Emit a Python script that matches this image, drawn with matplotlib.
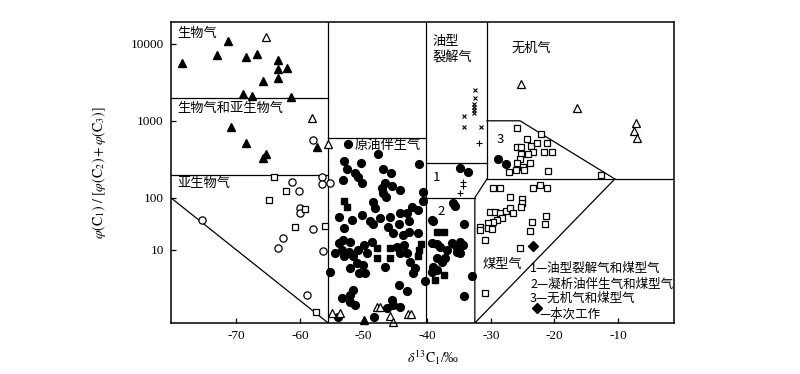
import numpy as np
import matplotlib
matplotlib.use("Agg")
import matplotlib.pyplot as plt

plt.rcParams['font.family'] = ['Noto Sans CJK SC', 'DejaVu Sans']
plt.rcParams['mathtext.fontset'] = 'stix'

# ---- data (delta13C1 in permil, C1/(C2+C3)) ----
tri_filled_x = [-78.6, -73.0, -71.3, -68.4, -66.7, -63.4, -63.4, -62.1, -65.8, -63.4,
                -68.9, -67.6, -61.4, -70.9, -68.4, -65.3, -65.8, -57.3, -49.85]
tri_filled_y = [5650, 7180, 10900, 6760, 7400, 6170, 4720, 4860, 3290, 3600,
                2230, 2100, 2040, 830, 514, 370, 328, 456, 0.46]

tri_open_x = [-65.4, -58.1, -55.55, -25.2, -16.4, -7.2, -7.5, -7.0,
              -54.9, -53.7, -47.85, -47.4, -45.8, -45.3, -43.0, -42.5]
tri_open_y = [12300, 1090, 500, 3000, 1470, 935, 735, 597,
              0.62, 0.62, 0.81, 0.81, 0.55, 0.42, 0.60, 0.60]

circ_open_x = [-57.9, -75.4, -61.25, -60.06, -59.95, -59.95, -62.67, -63.5, -58.0,
               -56.4, -58.9, -56.6, -56.55, -55.2]
circ_open_y = [563, 37.5, 161, 123, 62.7, 50, 16.8, 11.1, 25.2,
               9.7, 1.38, 187, 149, 154]

sq_open_x = [-64.1, -62.15, -64.8, -59.2, -60.7, -56.1, -57.4,
             # box 3
             -25.8, -22.1, -24.3, -25.9, -25.2, -23.6, -22.8, -21.2, -23.3, -21.7, -20.3,
             -25.2, -24.1, -25.4, -23.8, -25.9, -24.9, -26.0, -27.1, -24.7, -20.95, -12.6,
             # coal gas
             -29.6, -28.55, -23.3, -22.25, -21.1, -27.0, -25.1, -25.1, -25.2, -30.1, -29.3,
             -28.5, -27.6, -26.9, -26.5, -28.2, -29.05, -29.7, -30.5, -31.7, -31.7, -30.4,
             -29.85, -30.9, -21.3, -21.5, -23.5, -23.8, -25.4, -30.9]
sq_open_y = [187, 121, 90, 60, 27.2, 28.8, 0.64,
             813, 667, 574, 460, 460, 470, 519, 519, 396, 396, 396,
             370, 370, 315, 285, 280, 253, 229, 218, 229, 220, 197,
             135, 135, 135, 146, 135, 103, 93, 78, 65.5, 54, 54,
             51.6, 55.7, 62.7, 50, 41.5, 37.5, 34.8, 32.4, 27.9, 24.1, 26,
             24.9, 15.5, 44.7, 31.4, 33.9, 23.1, 10.8, 1.49]

circ_filled_x = [-52.4, -47.7, -53.0, -50.4, -41.2, -52.6, -51.3, -50.8, -53.2, -50.2,
                 -46.9, -45.7, -46.6, -47.1, -45.5, -44.2, -46.9, -46.4, -40.6, -48.5,
                 -48.2, -49.0, -51.8, -53.9, -53.1, -50.3, -47.4, -45.8, -44.2, -43.2,
                 -42.3, -41.4, -44.35, -42.9, -46.2, -40.7,
                 -48.5, -42.9, -45.3, -43.8, -41.4, -53.2, -53.9, -52.1, -53.4, -54.45,
                 -53.1, -52.3, -51.6, -50.8, -50.0, -48.7, -49.5, -51.05, -50.1, -50.65,
                 -49.7, -52.1, -55.2, -46.6, -44.8, -44.2, -43.7, -43.2, -42.65, -41.9,
                 -42.15, -40.3, -44.35, -43.1, -45.55, -45.3, -44.2, -46.3, -48.3, -51.6,
                 -52.1, -53.4, -52.2, -51.3, -54.0,
                 # box 2
                 -39.3, -39.1, -35.9, -35.6, -34.2, -39.3, -38.5, -38.0, -36.9, -36.1,
                 -35.4, -34.9, -34.4, -35.3, -34.8, -38.5, -37.7, -37.2, -39.0, -39.3,
                 -38.4, -33.0, -34.2,
                 # box 1 and box 3
                 -34.8, -33.5, -28.8, -27.6]
circ_filled_y = [499, 370, 300, 280, 274, 234, 207, 187, 170, 154,
                 234, 207, 154, 132, 142, 126, 114, 103, 120, 84,
                 63, 35, 37.5, 43, 26.7, 46.7, 40, 42, 50, 50,
                 67, 58, 31, 35, 28, 88,
                 31.4, 22.4, 21.4, 19.4, 20.8, 15.5, 13.4, 14.4, 10, 8.6,
                 7.5, 9.3, 7.5, 10, 12.5, 14.4, 8.6, 5.6, 5.2, 3.6,
                 3.6, 4.5, 3.75, 4.8, 11.6, 8.6, 12.5, 8.6, 6.0, 4.5,
                 3.6, 2.5, 2.14, 1.64, 1.1, 0.89, 0.82, 0.77, 0.53, 1.72,
                 1.38, 1.19, 1.03, 0.89, 0.53,
                 37.5, 35.8, 78, 69, 31, 13.8, 13, 11.6, 10, 13.4,
                 11.9, 14.4, 12.5, 9.3, 8.6, 6.9, 6.0, 7.1, 4.8, 3.85,
                 4.15, 3.2, 1.32,
                 241, 218, 315, 272]

sq_filled_x = [-53.1, -52.6, -41.0, -47.9, -45.8, -47.9, -45.8, -41.2, -41.4,
               -38.4, -37.3, -38.7, -37.3]
sq_filled_y = [86.5, 65.5, 13, 10.8, 10.8, 6.9, 6.9, 10, 7.5,
               21.8, 21.8, 2.67, 3.3]

cross_x = [-32.4, -32.45, -32.6, -32.6, -32.6, -32.6, -34.2, -34.2, -31.6]
cross_y = [2510, 1960, 1640, 1500, 1380, 1250, 1150, 837, 837]
plus_x = [-31.8, -34.3, -34.4, -34.9]
plus_y = [510, 161, 142, 116]

this_work_x = [-23.35]
this_work_y = [11.9]

# field boundaries (x list, y list)
boundaries = [
    ([-80.3, -55.55], [2000, 2000]),
    ([-80.3, -55.55], [200, 200]),
    ([-55.55, -55.55], [0.4, 19300]),
    ([-80.3, -55.55], [100, 0.4]),
    ([-55.55, -40.15], [600, 600]),
    ([-40.15, -40.15], [0.4, 19300]),
    ([-40.15, -30.6], [280, 280]),
    ([-30.6, -30.6], [19300, 175]),
    ([-30.6, -25.4, -10.5], [1000, 1000, 175]),
    ([-30.6, -1.2], [175, 175]),
    ([-30.6, -32.5, -32.5], [175, 100, 0.4]),
    ([-40.15, -32.5], [100, 100]),
    ([-10.5, -32.5], [175, 0.4]),
]

xticks = [-70, -60, -50, -40, -30, -20, -10]
yticks = [10, 100, 1000, 10000]

# y axis: log scale, the decade below 100 drawn shorter
K = 0.68


def fwd(y):
    ly = np.log10(np.clip(y, 1e-6, None))
    return np.where(ly >= 2, ly, 2 + (ly - 2) * K)


def inv(t):
    t = np.asarray(t, dtype=float)
    return np.where(t >= 2, 10 ** t, 10 ** (2 + (t - 2) / K))


fig = plt.figure(figsize=(8, 3.74), dpi=100)
ax = fig.add_axes([0.2134, 0.1364, 0.6291, 0.8048])
ax.set_yscale('function', functions=(fwd, inv))
ax.set_xlim(-80.3, -1.2)
ax.set_ylim(0.4, 19300)

for bx, by in boundaries:
    ax.plot(bx, by, color='black', lw=0.9)

kw = dict(linestyle='none', clip_on=False)
ax.plot(circ_filled_x, circ_filled_y, marker='o', ms=5.6, color='black', **kw)
ax.plot(sq_filled_x, sq_filled_y, marker='s', ms=4.8, color='black', **kw)
ax.plot(tri_filled_x, tri_filled_y, marker='^', ms=5.5, color='black', **kw)
ax.plot(tri_open_x, tri_open_y, marker='^', ms=5.5, mfc='white', mec='black', mew=0.9, **kw)
ax.plot(circ_open_x, circ_open_y, marker='o', ms=5.2, mfc='white', mec='black', mew=0.9, **kw)
ax.plot(sq_open_x, sq_open_y, marker='s', ms=4.6, mfc='white', mec='black', mew=0.9, **kw)
ax.plot(cross_x, cross_y, marker='x', ms=3.2, color='black', mew=0.8, **kw)
ax.plot(plus_x, plus_y, marker='+', ms=4.5, color='black', mew=0.8, **kw)
ax.plot(this_work_x, this_work_y, marker='D', ms=5.5, color='black', **kw)

# field names
fs = 9.5
tx = ax.transAxes
ax.text(0.0125, 0.963, '生物气', fontsize=fs, va='center', transform=tx)
ax.text(0.0125, 0.714, '生物气和亚生物气', fontsize=fs, va='center', transform=tx)
ax.text(0.0125, 0.462, '亚生物气', fontsize=fs, va='center', transform=tx)
ax.text(0.366, 0.591, '原油伴生气', fontsize=fs, va='center', transform=tx)
ax.text(0.521, 0.934, '油型', fontsize=fs, va='center', transform=tx)
ax.text(0.521, 0.880, '裂解气', fontsize=fs, va='center', transform=tx)
ax.text(0.678, 0.914, '无机气', fontsize=fs, va='center', transform=tx)
ax.text(0.655, 0.608, '3', fontsize=fs, ha='center', va='center', transform=tx)
ax.text(0.529, 0.485, '1', fontsize=fs, ha='center', va='center', transform=tx)
ax.text(0.537, 0.369, '2', fontsize=fs, ha='center', va='center', transform=tx)
ax.text(0.620, 0.193, '煤型气', fontsize=fs, va='center', transform=tx)

# key
kfs = 9.0
ax.text(0.714, 0.183, '1—油型裂解气和煤型气', fontsize=kfs, va='center', transform=tx)
ax.text(0.714, 0.130, '2—凝析油伴生气和煤型气', fontsize=kfs, va='center', transform=tx)
ax.text(0.714, 0.083, '3—无机气和煤型气', fontsize=kfs, va='center', transform=tx)
ax.plot([0.728], [0.050], marker='D', ms=5.5, color='black', transform=tx, clip_on=False)
ax.text(0.733, 0.028, '—本次工作', fontsize=kfs, va='center', transform=tx)

ax.set_xticks(xticks)
ax.set_xticklabels([str(v) for v in xticks])
ax.set_yticks(yticks)
ax.set_yticklabels([str(v) for v in yticks])
ax.minorticks_off()
ax.tick_params(direction='in', length=3.5, width=0.9, pad=5)
for lab in ax.get_xticklabels() + ax.get_yticklabels():
    lab.set_fontfamily('Liberation Serif')
    lab.set_fontsize(9.5)
for s in ax.spines.values():
    s.set_linewidth(1.1)

ax.set_xlabel(r'$\delta^{13}\mathrm{C}_1$/‰', fontsize=10, family='Liberation Serif')
ax.xaxis.set_label_coords(0.521, -0.085)
ax.set_ylabel(r'$\varphi(\mathrm{C}_1)\ /\ [\varphi(\mathrm{C}_2)+\varphi(\mathrm{C}_3)]$',
              fontsize=10)
ax.yaxis.set_label_coords(-0.125, 0.5)

fig.savefig('out.png', dpi=100)
